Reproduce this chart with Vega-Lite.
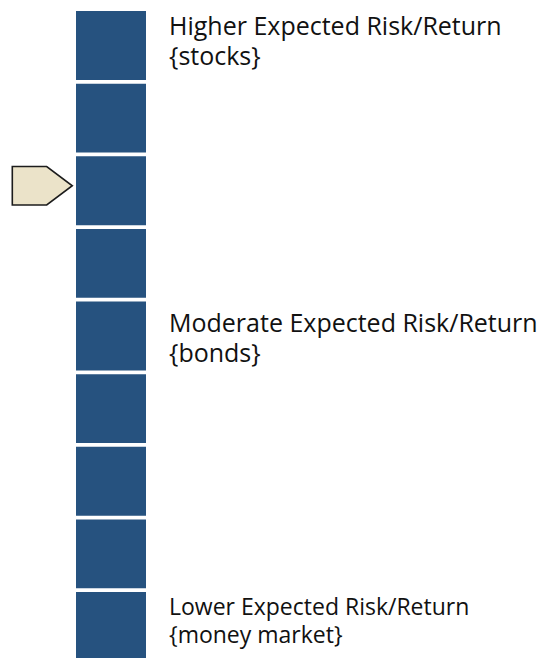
{
  "$schema": "https://vega.github.io/schema/vega-lite/v6.json",
  "autosize": {"type": "none"},
  "padding": {"left": 76, "top": 11, "right": 407, "bottom": 0},
  "width": 70,
  "height": 647,
  "background": "white",
  "config": {"view": {"stroke": null}},
  "data": {
    "values": [
      {"level": 9, "tier": "Higher", "label": "Higher Expected Risk/Return\n{stocks}", "current": false},
      {"level": 8, "tier": null, "label": null, "current": false},
      {"level": 7, "tier": null, "label": null, "current": true},
      {"level": 6, "tier": null, "label": null, "current": false},
      {"level": 5, "tier": "Moderate", "label": "Moderate Expected Risk/Return\n{bonds}", "current": false},
      {"level": 4, "tier": null, "label": null, "current": false},
      {"level": 3, "tier": null, "label": null, "current": false},
      {"level": 2, "tier": null, "label": null, "current": false},
      {"level": 1, "tier": "Lower", "label": "Lower Expected Risk/Return\n{money market}", "current": false}
    ]
  },
  "encoding": {
    "y": {
      "field": "level",
      "type": "ordinal",
      "scale": {"domain": [9, 8, 7, 6, 5, 4, 3, 2, 1], "range": [0, 650], "paddingInner": 0.05, "paddingOuter": 0},
      "axis": null
    }
  },
  "layer": [
    {
      "mark": {"type": "rect", "color": "#26527f"}
    },
    {
      "transform": [{"filter": "datum.current"}],
      "mark": {
        "type": "point",
        "shape": "M-1,-0.642L0.147,-0.642L1,0L0.147,0.642L-1,0.642Z",
        "size": 3600,
        "filled": true,
        "fill": "#ebe3c9",
        "stroke": "#1c1c1c",
        "strokeWidth": 1.6,
        "opacity": 1,
        "xOffset": -68.7,
        "yOffset": -5
      }
    },
    {
      "transform": [{"filter": "datum.tier === 'Higher'"}],
      "mark": {"type": "text", "align": "left", "baseline": "alphabetic", "dx": 58, "dy": 24, "fontSize": 25, "lineHeight": 29.5, "lineBreak": "\n", "font": "Open Sans", "color": "#111111"},
      "encoding": {
        "y": {"field": "level", "type": "ordinal", "bandPosition": 0},
        "text": {"field": "label"}
      }
    },
    {
      "transform": [{"filter": "datum.tier === 'Moderate'"}],
      "mark": {"type": "text", "align": "left", "baseline": "alphabetic", "dx": 58, "dy": 30, "fontSize": 25, "lineHeight": 30, "lineBreak": "\n", "font": "Open Sans", "color": "#111111"},
      "encoding": {
        "y": {"field": "level", "type": "ordinal", "bandPosition": 0},
        "text": {"field": "label"}
      }
    },
    {
      "transform": [{"filter": "datum.tier === 'Lower'"}],
      "mark": {"type": "text", "align": "left", "baseline": "alphabetic", "dx": 58, "dy": 23, "fontSize": 23, "lineHeight": 28, "lineBreak": "\n", "font": "Open Sans", "color": "#111111"},
      "encoding": {
        "y": {"field": "level", "type": "ordinal", "bandPosition": 0},
        "text": {"field": "label"}
      }
    }
  ]
}
